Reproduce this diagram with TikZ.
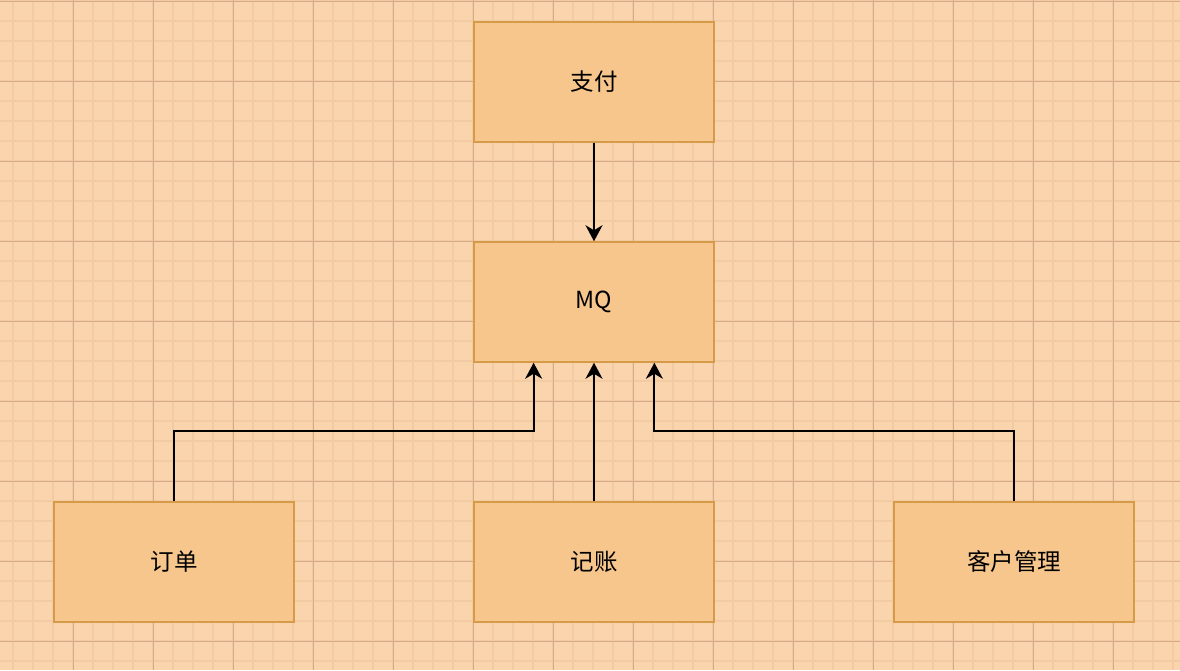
\documentclass[tikz,border=0pt]{standalone}
\usepackage{fontspec}
\setmainfont{Noto Sans CJK SC}
\usetikzlibrary{arrows.meta,calc}
\definecolor{bgc}{RGB}{249,212,172}
\definecolor{minorc}{RGB}{242,203,162}
\definecolor{majorc}{RGB}{214,170,136}
\definecolor{boxfill}{RGB}{247,198,141}
\definecolor{boxline}{RGB}{214,155,72}
\tikzset{
  box/.style={draw=boxline, fill=boxfill, line width=1.5pt, minimum width=240pt, minimum height=120pt, inner sep=0pt, font=\fontsize{23.5}{28}\selectfont},
  conn/.style={draw=black, line width=2pt, -{Stealth[length=16pt,width=17pt,inset=5pt]}}
}
\begin{document}
\begin{tikzpicture}[x=1pt,y=-1pt]
\fill[bgc] (0,0) rectangle (1180,670);
\useasboundingbox (0,0) rectangle (1180,670);
\foreach \i in {0,...,58} {\draw[minorc,line width=1.5pt] (13+20*\i,0) -- (13+20*\i,670);}
\foreach \j in {0,...,33} {\draw[minorc,line width=1.5pt] (0,1+20*\j) -- (1180,1+20*\j);}
\foreach \i in {0,...,14} {\draw[majorc,line width=1pt] (73+80*\i,0) -- (73+80*\i,670);}
\foreach \j in {0,...,8} {\draw[majorc,line width=1pt] (0,1+80*\j) -- (1180,1+80*\j);}
\node[box] (pay) at (594,82) {支付};
\node[box] (mq) at (594,302) {MQ};
\node[box] (order) at (174,562) {订单};
\node[box] (acct) at (594,562) {记账};
\node[box] (cust) at (1014,562) {客户管理};
\draw[conn] (pay.south) -- (mq.north);
\draw[conn] (acct.north) -- (mq.south);
\coordinate (mqL) at ($(mq.south west)!0.25!(mq.south east)$);
\coordinate (mqR) at ($(mq.south west)!0.75!(mq.south east)$);
\draw[conn] (order.north) -- ++(0,-70) -| (mqL);
\draw[conn] (cust.north) -- ++(0,-70) -| (mqR);
\end{tikzpicture}
\end{document}
